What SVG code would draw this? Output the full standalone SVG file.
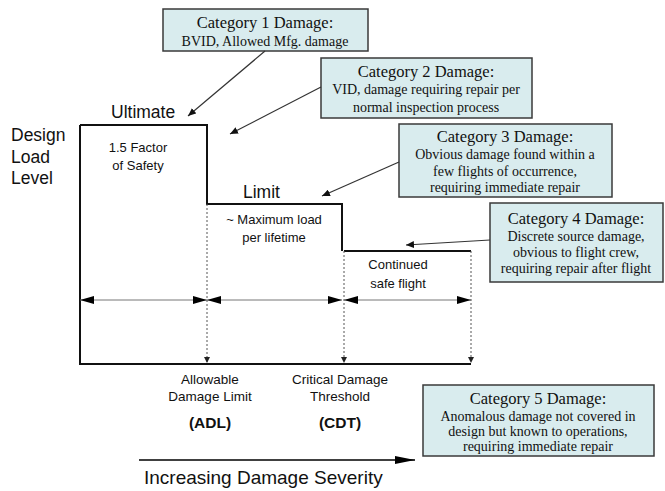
<svg xmlns="http://www.w3.org/2000/svg" width="665" height="491" viewBox="0 0 665 491">
<style>
.box{fill:#d9ecee;stroke:#3a3a3a;stroke-width:1.5}
.t{font-family:"Liberation Serif",serif;fill:#111;text-anchor:middle}
.tt{font-size:16.5px}
.tb{font-size:14px}
.s{font-family:"Liberation Sans",Arial,sans-serif;fill:#111}
.c{text-anchor:middle}
.outline{fill:none;stroke:#111;stroke-width:2}
.dim{stroke:#777;stroke-width:1;fill:none}
.dot{stroke:#555;stroke-width:1;stroke-dasharray:2,2;fill:none}
.con{stroke:#333;stroke-width:1.2;fill:none}
</style>
<defs>
<marker id="dh" viewBox="0 0 14 8" refX="14" refY="4" markerWidth="14" markerHeight="8" markerUnits="userSpaceOnUse" orient="auto-start-reverse"><path d="M0,0 L14,4 L0,8 Z" fill="#000"/></marker>
<marker id="sm" viewBox="0 0 6 6" refX="6" refY="3" markerWidth="6" markerHeight="6" markerUnits="userSpaceOnUse" orient="auto"><path d="M0,0 L6,3 L0,6 Z" fill="#222"/></marker>
<marker id="ca" viewBox="0 0 8 7" refX="8" refY="3.5" markerWidth="8" markerHeight="7" markerUnits="userSpaceOnUse" orient="auto"><path d="M0,0 L8,3.5 L0,7 Z" fill="#111"/></marker>
<marker id="big" viewBox="0 0 20 8" refX="20" refY="4" markerWidth="20" markerHeight="8" markerUnits="userSpaceOnUse" orient="auto"><path d="M0,0 L20,4 L0,8 Z" fill="#000"/></marker>
</defs>

<g id="chart">
<path class="outline" d="M80,125 L207,125 L207,204 L342,204 L342,251"/>
<path class="outline" d="M344,251 L471,251"/>
<path class="outline" d="M80,125 L80,364 L471,364"/>
<path class="dot" d="M207,204 V363" marker-end="url(#sm)"/>
<path class="dot" d="M344,251 V363" marker-end="url(#sm)"/>
<path class="dot" d="M471,251 V363" marker-end="url(#sm)"/>
</g>

<g id="labels">
<text class="s" x="111" y="118" font-size="17.5">Ultimate</text>
<text class="s" x="11" y="141" font-size="17.5">Design</text>
<text class="s" x="11" y="163" font-size="17.5">Load</text>
<text class="s" x="11" y="184" font-size="17.5">Level</text>
<text class="s c" x="138" y="152" font-size="13">1.5 Factor</text>
<text class="s c" x="138" y="170" font-size="13">of Safety</text>
<text class="s" x="243" y="198" font-size="17.5">Limit</text>
<text class="s c" x="274" y="224" font-size="13">~ Maximum load</text>
<text class="s c" x="274" y="242" font-size="13">per lifetime</text>
<text class="s c" x="398" y="269" font-size="13">Continued</text>
<text class="s c" x="398" y="288" font-size="13">safe flight</text>
<text class="s c" x="210" y="384" font-size="13.5">Allowable</text>
<text class="s c" x="210" y="401" font-size="13.5">Damage Limit</text>
<text class="s c" x="210" y="428" font-size="15.5" font-weight="bold">(ADL)</text>
<text class="s c" x="340" y="384" font-size="13.5">Critical Damage</text>
<text class="s c" x="340" y="401" font-size="13.5">Threshold</text>
<text class="s c" x="340" y="428" font-size="15.5" font-weight="bold">(CDT)</text>
<text class="s" x="144" y="484" font-size="19">Increasing Damage Severity</text>
</g>

<g id="cat1">
<rect class="box" x="163" y="9" width="205" height="42"/>
<text class="t tt" x="265" y="28">Category 1 Damage:</text>
<text class="t tb" x="265" y="46">BVID, Allowed Mfg. damage</text>
</g>
<g id="cat2">
<rect class="box" x="321" y="58" width="211" height="60"/>
<text class="t tt" x="426" y="77">Category 2 Damage:</text>
<text class="t tb" x="426" y="94">VID, damage requiring repair per</text>
<text class="t tb" x="426" y="112">normal inspection process</text>
</g>
<g id="cat3">
<rect class="box" x="399" y="124" width="213" height="73"/>
<text class="t tt" x="505" y="142">Category 3 Damage:</text>
<text class="t tb" x="505" y="159">Obvious damage found within a</text>
<text class="t tb" x="505" y="176">few flights of occurrence,</text>
<text class="t tb" x="505" y="192">requiring immediate repair</text>
</g>
<g id="cat4">
<rect class="box" x="490" y="203" width="173" height="79"/>
<text class="t tt" x="576" y="224">Category 4 Damage:</text>
<text class="t tb" x="576" y="241">Discrete source damage,</text>
<text class="t tb" x="576" y="257">obvious to flight crew,</text>
<text class="t tb" x="576" y="273">requiring repair after flight</text>
</g>
<g id="cat5">
<rect class="box" x="423" y="385" width="231" height="71"/>
<text class="t tt" x="538" y="404">Category 5 Damage:</text>
<text class="t tb" x="538" y="421">Anomalous damage not covered in</text>
<text class="t tb" x="538" y="436">design but known to operations,</text>
<text class="t tb" x="538" y="451">requiring immediate repair</text>
</g>

<g id="connectors">
<line class="dim" x1="80" y1="300" x2="207" y2="300" marker-start="url(#dh)" marker-end="url(#dh)"/>
<line class="dim" x1="207" y1="300" x2="342" y2="300" marker-start="url(#dh)" marker-end="url(#dh)"/>
<line class="dim" x1="344" y1="300" x2="471" y2="300" marker-start="url(#dh)" marker-end="url(#dh)"/>
<line class="con" x1="265" y1="51" x2="188" y2="116" marker-end="url(#ca)"/>
<line class="con" x1="321" y1="87" x2="230" y2="134" marker-end="url(#ca)"/>
<line class="con" x1="399" y1="162" x2="322" y2="196" marker-end="url(#ca)"/>
<line class="con" x1="490" y1="240" x2="406" y2="245" marker-end="url(#ca)"/>
<line x1="139" y1="460" x2="415" y2="460" stroke="#000" stroke-width="1.5" marker-end="url(#big)"/>
</g>
</svg>
